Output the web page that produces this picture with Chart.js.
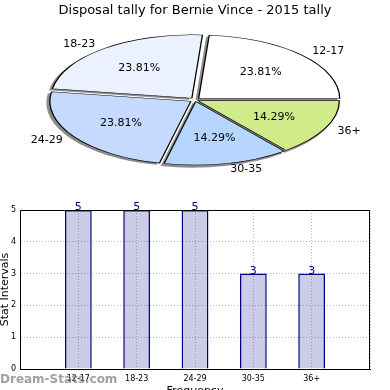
<!DOCTYPE html>
<html>
<head>
<meta charset="utf-8">
<script src="https://cdn.jsdelivr.net/npm/chart.js@4.4.1/dist/chart.umd.min.js"></script>
<style>
html, body { margin: 0; padding: 0; background: #fff; overflow: hidden; }
#wrap { position: relative; width: 390px; height: 390px; overflow: hidden; }
#barBox { position: absolute; left: 0; top: 190px; }
#pieBox { position: absolute; left: 0; top: 0; }
</style>
</head>
<body>
<div id="wrap">
  <div id="barBox"><canvas id="barChart" width="390" height="208"></canvas></div>
  <div id="pieBox"><canvas id="pieChart" width="390" height="390"></canvas></div>
</div>
<script>
// chart data
const ageGroups = ['12-17', '18-23', '24-29', '30-35', '36+'];
const tallies = [5, 5, 5, 3, 3];
const yTicks = [0, 1, 2, 3, 4, 5];

const sliceColors = ['#ffffff', '#ebf1ff', '#c6d9ff', '#b6d6ff', '#d0eb8a'];
const FONT = '"DejaVu Sans", sans-serif';

// pie geometry (matplotlib squashes the pie into an ellipse)
const PIE_CX = 195, PIE_CY = 100, SQUASH = 0.45;
const total = tallies.reduce((a, b) => a + b, 0);

function arcRadiusExtra(arc) {
    const circ = arc.endAngle - arc.startAngle;
    return (arc.options.offset || 0) * (1 - Math.sin(Math.min(Math.PI, circ)));
}

const ellipsePlugin = {
    id: 'ellipse',
    beforeDatasetsDraw(chart) {
        const ctx = chart.ctx;
        const arcs = chart.getDatasetMeta(0).data;
        ctx.save();
        ctx.translate(PIE_CX, PIE_CY);
        ctx.scale(1, SQUASH);
        ctx.translate(-arcs[0].x, -arcs[0].y);
        // shadows under each slice
        arcs.forEach(arc => {
            const mid = (arc.startAngle + arc.endAngle) / 2;
            const shift = (arc.options.offset || 0) / 4;
            const r = arc.outerRadius + arcRadiusExtra(arc);
            const ox = arc.x + Math.cos(mid) * shift - 3;
            const oy = arc.y + Math.sin(mid) * shift + 1.5 / SQUASH;
            ctx.beginPath();
            ctx.moveTo(ox, oy);
            ctx.arc(ox, oy, r + 0.5, arc.startAngle, arc.endAngle);
            ctx.closePath();
            ctx.fillStyle = 'rgba(0,0,0,0.45)';
            ctx.fill();
        });
    },
    afterDatasetsDraw(chart) {
        const ctx = chart.ctx;
        ctx.restore();
        const arcs = chart.getDatasetMeta(0).data;
        const labels = chart.data.labels;
        const values = chart.data.datasets[0].data;
        ctx.save();
        ctx.font = '11px ' + FONT;
        ctx.fillStyle = '#000';
        ctx.textBaseline = 'middle';
        arcs.forEach((arc, i) => {
            const mid = (arc.startAngle + arc.endAngle) / 2;
            const shift = (arc.options.offset || 0) / 4;
            const R = arc.outerRadius;
            const at = f => [PIE_CX + Math.cos(mid) * (shift + f * R),
                             PIE_CY + Math.sin(mid) * (shift + f * R) * SQUASH];
            const p = at(0.6);
            ctx.textAlign = 'center';
            ctx.fillText((values[i] / total * 100).toFixed(2) + '%', p[0], p[1]);
            const q = at(1.1);
            ctx.textAlign = Math.cos(mid) >= 0 ? 'left' : 'right';
            ctx.fillText(labels[i], q[0], q[1]);
        });
        ctx.restore();
    }
};

// matplotlib goes counter-clockwise from 3 o'clock, Chart.js clockwise
const pieOrder = ageGroups.map((_, i) => i).reverse();

new Chart(document.getElementById('pieChart').getContext('2d'), {
    type: 'pie',
    data: {
        labels: pieOrder.map(i => ageGroups[i]),
        datasets: [{
            data: pieOrder.map(i => tallies[i]),
            backgroundColor: pieOrder.map(i => sliceColors[i]),
            borderColor: '#000',
            borderWidth: 1.3,
            offset: pieOrder.map(i => tallies[i] < 5 ? 12 : 20)
        }]
    },
    options: {
        responsive: false,
        animation: false,
        events: [],
        rotation: 90,
        radius: 141,
        plugins: {
            legend: { display: false },
            tooltip: { enabled: false },
            title: {
                display: true,
                text: 'Disposal tally for Bernie Vince - 2015 tally',
                color: '#000',
                font: { family: FONT, size: 13, weight: 'normal' },
                padding: { top: 3, bottom: 0 }
            }
        }
    },
    plugins: [ellipsePlugin]
});

// bar chart
const paddedLabels = ['', ...ageGroups, ''];
const gridColor = 'rgba(0,0,0,0.28)';

const barExtras = {
    id: 'barExtras',
    afterDatasetsDraw(chart) {
        const ctx = chart.ctx;
        const meta = chart.getDatasetMeta(0);
        ctx.save();
        ctx.font = '11px ' + FONT;
        ctx.fillStyle = 'navy';
        ctx.textAlign = 'center';
        ctx.textBaseline = 'alphabetic';
        meta.data.forEach((bar, i) => {
            const v = chart.data.datasets[0].data[i];
            if (v == null) return;
            ctx.fillText(String(v), bar.x, bar.y);
        });
        ctx.restore();
    },
    afterDraw(chart) {
        const ctx = chart.ctx;
        const a = chart.chartArea;
        ctx.save();
        ctx.strokeStyle = '#000';
        ctx.lineWidth = 1;
        ctx.strokeRect(a.left + 0.5, a.top + 0.5, a.right - a.left - 1, a.bottom - a.top);
        ctx.font = 'bold 12px ' + FONT;
        ctx.fillStyle = 'rgba(120,120,120,0.7)';
        ctx.textAlign = 'left';
        ctx.textBaseline = 'middle';
        ctx.fillText('Dream-Stats.com', 0, 190);
        ctx.restore();
    }
};

new Chart(document.getElementById('barChart').getContext('2d'), {
    type: 'bar',
    data: {
        labels: paddedLabels,
        datasets: [{
            data: [null, ...tallies, null],
            backgroundColor: 'rgba(0,0,128,0.2)',
            borderColor: '#00008b',
            borderWidth: 1.4,
            barPercentage: 0.46,
            categoryPercentage: 1
        }]
    },
    options: {
        responsive: false,
        animation: false,
        events: [],
        layout: { padding: { top: 20, right: 20, left: 0, bottom: 0 } },
        plugins: { legend: { display: false }, tooltip: { enabled: false } },
        scales: {
            x: {
                offset: false,
                grid: { offset: false, color: gridColor, drawTicks: false },
                border: { display: true, color: '#000', width: 1, dash: [1, 2] },
                ticks: {
                    autoSkip: false, maxRotation: 0, padding: 5, color: '#000',
                    font: { family: FONT, size: 8 },
                    callback: (v, i) => paddedLabels[i]
                },
                title: {
                    display: true, text: 'Frequency', color: '#000', padding: 0,
                    font: { family: FONT, size: 11 }
                },
                afterFit: axis => { axis.height = 29; }
            },
            y: {
                min: yTicks[0],
                max: yTicks[yTicks.length - 1],
                grid: { color: gridColor, drawTicks: false },
                border: { display: true, color: '#000', width: 1, dash: [1, 2] },
                ticks: {
                    stepSize: 1, padding: 4, color: '#000',
                    font: { family: FONT, size: 8 }
                },
                title: {
                    display: true, text: 'Stat Intervals', color: '#000', padding: 0,
                    font: { family: FONT, size: 11, lineHeight: 1 }
                },
                afterFit: axis => { axis.width = 20; }
            }
        }
    },
    plugins: [barExtras]
});
</script>
</body>
</html>
